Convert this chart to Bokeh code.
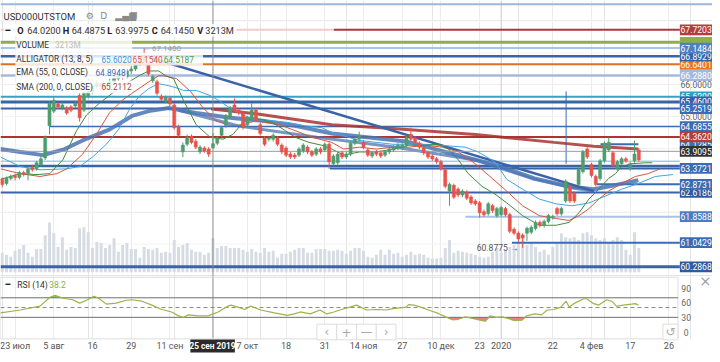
import numpy as np
from bokeh.plotting import figure
from bokeh.models import Range1d, FixedTicker, Grid
from bokeh.core.properties import value
from bokeh.embed import file_html
from bokeh.resources import INLINE

F = value("Roboto")
SYM = value("DejaVu Sans")

# ---------------- data ----------------
opens = [63.03, 62.90, 63.06, 63.15, 63.09, 63.24, 63.21, 63.40, 63.36, 63.49,
         63.70, 64.71, 65.17, 65.39, 65.27, 65.27, 65.30, 65.33, 65.66, 65.20,
         65.63, 65.79, 65.94, 66.03, 65.91, 65.97, 66.09, 66.19, 66.34, 66.25,
         66.43, 66.49, 66.65, 66.86, 66.62, 66.12, 66.09, 65.63, 65.48, 65.57,
         65.36, 64.68, 63.89, 64.13, 64.38, 64.22, 63.89, 64.01, 63.98, 64.02,
         64.16, 64.41, 64.71, 64.99, 65.36, 65.20, 65.11, 64.74, 64.90, 65.20,
         64.74, 64.32, 64.29, 64.29, 64.32, 64.10, 64.01, 63.82, 63.79, 63.79,
         63.92, 64.04, 63.89, 63.82, 63.98, 63.95, 64.13, 63.52, 63.55, 63.86,
         63.73, 63.82, 64.16, 64.29, 64.19, 63.95, 63.76, 63.89, 63.86, 63.79,
         63.89, 63.95, 64.01, 64.01, 64.10, 64.44, 64.32, 64.16, 64.01, 63.86,
         63.76, 63.67, 63.58, 63.33, 62.66, 62.84, 62.72, 62.54, 62.63, 62.47,
         62.35, 62.29, 62.01, 61.95, 62.20, 61.89, 61.92, 62.11, 61.92, 61.46,
         61.34, 61.28, 61.34, 61.37, 61.49, 61.68, 61.59, 61.71, 61.83, 62.11,
         61.95, 62.35, 62.81, 62.60, 62.87, 63.27, 63.98, 63.49, 63.12, 63.06,
         63.61, 63.95, 63.86, 63.36, 63.52, 63.67, 63.36, 63.61, 63.95]
highs = [63.09, 63.12, 63.18, 63.21, 63.30, 63.30, 63.43, 63.49, 63.61, 63.79,
         64.41, 65.48, 65.63, 65.45, 65.45, 65.33, 65.36, 65.51, 65.73, 65.79,
         65.88, 66.00, 66.12, 66.09, 66.06, 66.19, 66.28, 66.43, 66.40, 66.49,
         66.59, 66.74, 66.95, 67.14, 66.71, 66.31, 66.16, 65.70, 65.66, 65.63,
         65.42, 64.74, 64.19, 64.44, 64.44, 64.29, 64.10, 64.07, 64.04, 64.4875,
         64.38, 64.71, 65.08, 65.33, 65.57, 65.27, 65.17, 65.02, 65.42, 65.27,
         64.81, 64.38, 64.38, 64.47, 64.38, 64.16, 64.07, 63.89, 63.86, 64.04,
         64.16, 64.10, 63.95, 64.04, 64.04, 64.19, 64.19, 63.82, 63.89, 63.92,
         63.89, 64.22, 64.35, 64.53, 64.25, 64.01, 63.92, 63.95, 63.92, 63.95,
         64.04, 64.10, 64.16, 64.16, 64.41, 64.65, 64.38, 64.22, 64.07, 63.92,
         63.82, 63.73, 63.64, 63.40, 62.93, 62.90, 62.78, 62.72, 62.69, 62.54,
         62.41, 62.35, 62.08, 62.32, 62.26, 62.17, 62.20, 62.17, 61.98, 61.52,
         61.40, 61.34, 61.55, 61.59, 61.74, 61.74, 61.77, 61.95, 61.92, 62.17,
         62.17, 63.03, 62.87, 62.66, 63.40, 63.95, 64.04, 63.55, 63.18, 63.67,
         64.22, 64.35, 63.92, 63.64, 63.73, 63.73, 63.58, 64.25, 64.01]
lows = [62.78, 62.84, 63.00, 63.00, 63.03, 63.12, 63.00, 63.27, 63.30, 63.43,
        63.64, 64.44, 65.11, 65.24, 65.20, 65.05, 65.14, 65.27, 64.84, 65.14,
        65.57, 65.73, 65.88, 65.82, 65.85, 65.91, 66.03, 66.12, 66.16, 66.19,
        66.34, 66.43, 66.59, 66.68, 66.28, 66.06, 65.66, 65.48, 65.42, 65.33,
        64.59, 64.35, 63.73, 64.07, 64.13, 63.98, 63.82, 63.86, 63.73, 63.9975,
        64.10, 64.35, 64.65, 64.93, 65.14, 65.05, 64.59, 64.68, 64.84, 64.84,
        64.41, 64.07, 64.22, 64.22, 64.07, 63.82, 63.73, 63.67, 63.67, 63.73,
        63.86, 63.82, 63.73, 63.76, 63.82, 63.89, 63.36, 63.46, 63.49, 63.67,
        63.67, 63.76, 64.10, 64.22, 63.98, 63.73, 63.70, 63.76, 63.70, 63.73,
        63.82, 63.89, 63.95, 63.95, 64.04, 64.22, 64.13, 63.98, 63.79, 63.67,
        63.61, 63.52, 63.30, 62.75, 62.20, 62.41, 62.47, 62.47, 62.38, 62.23,
        62.20, 61.83, 61.86, 61.89, 61.98, 61.83, 61.86, 61.86, 61.34, 61.28,
        61.06, 60.8775, 61.10, 61.31, 61.43, 61.52, 61.52, 61.65, 61.77, 61.89,
        61.89, 62.29, 62.29, 62.29, 62.81, 63.21, 63.67, 63.09, 62.81, 63.00,
        63.55, 63.89, 63.40, 63.30, 63.46, 63.55, 63.30, 63.55, 63.58]
closes = [62.87, 63.06, 63.12, 63.09, 63.24, 63.18, 63.36, 63.33, 63.55, 63.67,
          64.35, 65.42, 65.51, 65.30, 65.36, 65.11, 65.20, 65.42, 64.96, 65.73,
          65.79, 65.94, 66.03, 65.94, 65.97, 66.09, 66.19, 66.34, 66.25, 66.43,
          66.49, 66.65, 66.86, 66.74, 66.34, 66.25, 65.73, 65.54, 65.60, 65.39,
          64.65, 64.41, 64.10, 64.35, 64.19, 64.04, 64.04, 63.92, 63.82, 64.145,
          64.32, 64.65, 65.02, 65.27, 65.20, 65.11, 64.65, 64.96, 65.20, 64.90,
          64.47, 64.13, 64.32, 64.41, 64.13, 63.89, 63.79, 63.73, 63.73, 63.98,
          64.10, 63.89, 63.79, 63.98, 63.89, 64.13, 63.58, 63.76, 63.82, 63.73,
          63.82, 64.16, 64.29, 64.38, 64.04, 63.79, 63.86, 63.82, 63.76, 63.89,
          63.98, 64.04, 64.10, 64.10, 64.35, 64.29, 64.19, 64.04, 63.86, 63.73,
          63.67, 63.58, 63.36, 62.81, 62.87, 62.47, 62.54, 62.66, 62.44, 62.29,
          62.26, 61.98, 61.92, 62.26, 62.05, 62.11, 62.14, 61.92, 61.40, 61.34,
          61.16, 61.19, 61.49, 61.52, 61.68, 61.59, 61.71, 61.89, 61.86, 61.95,
          62.11, 62.97, 62.35, 62.35, 63.33, 63.89, 63.73, 63.15, 62.87, 63.61,
          64.16, 64.19, 63.46, 63.58, 63.67, 63.61, 63.52, 63.82, 63.64]
volumes = [1840, 1656, 1472, 2024, 2208, 2576, 1840, 1472, 2208, 2208,
           3496, 4692, 3680, 2392, 3312, 2116, 2392, 2300, 4140, 4232,
           3772, 2300, 2852, 2760, 2300, 2576, 3220, 1932, 2576, 2760,
           2208, 2208, 1380, 2392, 2208, 2116, 2300, 1840, 1932, 1840,
           3036, 2392, 2576, 2760, 2116, 1932, 1932, 1656, 1840, 3213,
           2300, 2484, 2484, 2300, 2300,
           2300, 2116, 1932, 2208, 1932, 1840, 2300, 1932, 2024, 1380,
           1748, 1748, 1932, 2116, 2300, 2300, 1840, 1840, 2208, 2208,
           2208, 2024, 2024, 2116, 2024, 1748, 2024, 2300, 2300, 2024,
           1472, 1380, 1656, 2116, 1656, 2116, 1748, 1840, 1472, 1656,
           1932, 1656, 1748, 1656, 1380, 1288, 1288, 1380, 2300, 3036,
           1840, 2024, 1932, 1840, 1748,
           1656, 1472, 1380, 1472, 1932, 2300, 1840, 2116, 2392, 2576,
           2760, 3220, 2576, 2852, 2392, 1932, 2116, 1656, 2392, 2760,
           3680, 3312, 3220, 3312, 3036, 3680, 3772, 3496, 3220, 3036,
           3220, 2760, 3036, 3312, 3036, 2116, 1656, 3772, 2300]

rsi_k = [-0.4, 4.2, 8.8, 11.1, 12.3, 14.1, 16.4, 18.0, 19.6, 21.4, 22.6, 24.2, 26.5, 28.8, 30.2,
         32.5, 34.8, 37.1, 39.4, 41.0, 42.1, 43.3, 45.6, 47.9, 50.2, 52.5, 53.2, 54.8, 56.4, 57.8,
         60.1, 63.3, 66.3, 67.9, 69.3, 71.6, 73.9, 75.5, 77.1, 78.5, 80.8, 82.4, 84.7, 87.0, 89.3,
         90.9, 93.9, 94.5, 95.7, 97.3, 99.1, 101.4, 103.1, 104.7, 106.0, 107.7, 109.3, 111.1, 112.3,
         113.4, 115.0, 116.2, 117.5, 119.1, 120.8, 121.9, 123.8, 125.4, 126.7, 128.3, 129.9, 131.1,
         131.8, 132.9, 135.2, 135.9, 137.5, 138.7, 140.5, 141.7, 142.8, 144.4, 146.3, 147.2, 147.9]
rsi_v = [39, 45, 53, 71, 75, 69, 66, 59, 65, 73, 68, 57, 59, 65, 66,
         63, 55, 46, 41, 33, 30, 35, 33, 33, 41, 53, 55, 51, 46, 53,
         45, 39, 34, 37, 41, 37, 45, 37, 41, 45, 51, 55, 45, 46, 45,
         48, 51, 56, 55, 51, 45, 38, 31, 25, 26, 31, 28, 24, 22,
         33, 30, 31, 28, 23, 24, 33, 37, 35, 45, 46, 51, 63,
         51, 58, 68, 68, 58, 55, 66, 63, 53, 55, 57, 58, 55]

sma_k = [48.6, 59.4, 68.6, 76.6, 91.6, 110.0, 128.3, 137.5, 147.9]
sma_v = [65.24, 65.08, 64.90, 64.74, 64.62, 64.44, 64.19, 64.07, 63.98]
ema_k = [-0.39, 4.21, 9.49, 14.55, 18.69, 24.90, 30.18, 34.09, 38.69, 45.13, 52.94, 60.53,
         68.11, 76.62, 86.97, 93.86, 103.06, 114.55, 123.75, 131.79, 137.54, 142.14, 147.89]
ema_v = [63.98, 63.89, 63.79, 63.98, 64.25, 64.59, 65.02, 65.17, 65.27, 65.11, 64.96, 64.87,
         64.71, 64.47, 64.32, 64.22, 63.89, 63.49, 63.06, 62.81, 62.72, 62.84, 63.00]
ema2_k = [40.99, 54.78, 73.17, 91.56, 109.95, 123.75, 132.94, 137.54]
ema2_v = [65.20, 64.71, 64.35, 64.04, 63.64, 63.03, 62.75, 62.66]
trend_k = [34.09, 137.54]
trend_v = [66.86, 62.66]

lips_k = [-0.39, 4.21, 8.11, 11.10, 14.09, 17.31, 19.61, 22.60, 25.59, 28.80, 31.79, 34.09, 36.39,
          38.00, 39.84, 42.14, 45.13, 48.34, 51.33, 53.63, 55.93, 58.23, 60.53, 62.83, 65.82, 68.11,
          71.33, 74.32, 76.62, 79.38, 83.06, 86.97, 90.87, 94.55, 98.46, 101.45, 103.75, 106.05,
          108.35, 111.56, 114.55, 117.31, 120.99, 124.89, 128.80, 131.79, 134.09, 136.39, 138.69,
          141.00, 142.60, 143.98, 146.28, 149.50, 151.11]
lips_v = [63.03, 63.21, 63.18, 63.21, 63.64, 64.56, 65.05, 65.42, 65.73, 66.03, 66.28, 66.43, 66.43,
          66.28, 66.19, 65.51, 64.74, 64.35, 64.29, 64.44, 64.81, 64.96, 64.90, 64.81, 64.56, 64.35,
          64.19, 64.10, 63.98, 63.79, 63.89, 63.89, 63.98, 64.10, 64.10, 64.13, 63.98, 63.64,
          63.21, 62.81, 62.57, 62.29, 61.89, 61.59, 61.59, 61.68, 61.98, 62.41, 62.72,
          63.06, 63.21, 63.43, 63.52, 63.55, 63.55]
teeth_k = [-0.39, 4.21, 8.80, 12.71, 15.01, 18.69, 21.91, 24.90, 27.89, 30.18, 34.09, 36.39, 37.54,
           40.53, 43.75, 46.74, 49.72, 52.94, 55.93, 58.92, 62.14, 65.13, 68.11, 72.02, 76.62, 79.38,
           83.06, 86.97, 90.87, 94.55, 98.46, 102.37, 106.05, 109.95, 113.40, 117.31, 120.99, 124.89,
           128.80, 131.79, 134.09, 136.39, 138.69, 141.00, 143.98, 147.20, 150.19, 152.95]
teeth_v = [63.36, 63.21, 63.12, 63.21, 63.36, 63.82, 64.44, 65.11, 65.51, 65.73, 66.09, 66.28, 66.28,
           66.19, 65.79, 65.27, 64.87, 64.71, 64.74, 64.87, 64.81, 64.71, 64.56, 64.35, 64.19, 63.98,
           64.04, 63.98, 64.04, 64.04, 64.10, 64.04, 63.89, 63.52, 63.12, 62.66, 62.20, 61.89,
           61.80, 61.74, 61.89, 62.11, 62.41, 62.66, 62.90, 63.12, 63.21, 63.36]
jaw_k = [-0.39, 4.21, 8.80, 15.01, 18.00, 20.99, 24.21, 27.20, 29.49, 31.79, 34.09, 36.39, 38.69,
         40.99, 42.14, 45.13, 48.34, 50.64, 52.94, 55.93, 58.92, 62.83, 66.74, 70.41, 74.32, 76.62,
         83.06, 90.87, 98.46, 107.66, 110.64, 114.55, 117.31, 120.99, 124.89, 128.80, 132.48,
         136.39, 140.30, 143.98, 147.89, 151.80, 155.93]
jaw_v = [63.73, 63.43, 63.33, 63.36, 63.43, 63.73, 64.13, 64.62, 65.20, 65.63, 65.88, 66.03, 65.97,
         65.88, 65.82, 65.82, 65.66, 65.48, 65.27, 65.05, 64.90, 64.87, 64.81, 64.71, 64.65, 64.50,
         64.25, 64.13, 64.13, 64.04, 63.89, 63.58, 63.03, 62.72, 62.41, 62.26, 62.20,
         62.29, 62.51, 62.72, 62.90, 63.12, 63.18]

level_values = [68.52, 67.7203, 67.33, 67.1484, 66.8929, 66.6401, 66.2880, 65.62, 65.46, 65.2519,
                64.6855, 64.3620, 64.1285, 63.60, 63.45, 63.3721, 62.8731, 62.6186, 61.8588,
                61.0429, 60.2868]
drawn_vertical = (131.1, 63.52, 65.79)

tick_idx = [3, 12, 21, 30, 39, 57, 66, 75, 84, 93, 102, 111, 116, 128, 137, 146, 155]
tick_labels = ["23 июл", "5 авг", "16", "29", "11 сен", "7 окт", "18", "31", "14 ноя", "27",
               "10 дек", "23", "2020", "22", "4 фев", "17", "26"]
cross_idx = 49
cross_date = "25 сен 2019"
cross_price = 63.9095
legend_vals = [65.6020, 65.1540, 64.5187, 64.8948, 65.2112]
rsi_last = 38.2
price_ticks = [65, 66]
rsi_ticks = [0, 30, 60, 90]

# ---------------- styling / layout ----------------
GREEN = "#4f9d6e"
RED = "#e8524a"
LAB_L, LAB_R, LAB_C = 157.54, 166.0, 161.33
HALF = 0.169
DATE_Y = -28
level_style = [
    (-0.39, 166.0, "#9db7de", 2),
    (77.1, LAB_L, "#a83a3a", 2),
    (-0.39, LAB_L, "#8fae4a", 3),
    (-0.39, LAB_L, "#8fb0dd", 1.5),
    (-0.39, LAB_L, "#3a63a8", 2.5),
    (-0.39, LAB_L, "#e0701f", 2),
    (-0.39, LAB_L, "#a5b8de", 2.5),
    (-0.39, LAB_L, "#39a2c4", 2),
    (-0.39, LAB_L, "#3a63a8", 3),
    (-0.39, LAB_L, "#3a63a8", 2),
    (11.1, LAB_L, "#3b6cb3", 1.5),
    (-0.39, LAB_L, "#b03333", 2),
    (139.1, 147.9, "#3b6cb3", 2),
    (-0.39, LAB_L, "#9fcdee", 1.5),
    (-0.39, LAB_L, "#3a63a8", 2.5),
    (76.2, LAB_L, "#3a63a8", 2),
    (138.2, LAB_L, "#3b6cb3", 2),
    (-0.39, LAB_L, "#3a63a8", 2),
    (107.7, LAB_L, "#aac2e4", 2),
    (118.5, LAB_L, "#3b6cb3", 2),
    (-0.39, LAB_L, "#3a63a8", 3),
]
box_order = [(5, "#e8771f", True), (4, "#3462a8", True), (2, "#8db04a", False), (3, "#4d80c4", True),
             (6, "#a7b8de", True), (1, "#b53c3c", True),
             (7, "#2e9fc0", True), (8, "#3462a8", True), (9, "#3b6cb3", True),
             (10, "#3b6cb3", True), (12, "#3b6cb3", True), (11, "#b53c3c", True),
             (15, "#3b6cb3", True), (17, "#2d5aa0", True), (16, "#3b6cb3", True),
             (18, "#4d7dc0", True), (19, "#3b6cb3", True), (20, "#2d5aa0", True)]

o = np.array(opens); c = np.array(closes); h = np.array(highs); l = np.array(lows)
idx = np.arange(len(c))

p = figure(width=712, height=354, x_range=Range1d(-0.391, 165.13), y_range=Range1d(57.536, 68.6405),
           x_axis_location=None, y_axis_location=None, output_backend="svg", toolbar_location=None,
           min_border_left=0, min_border_right=0, min_border_top=0, min_border_bottom=0,
           outline_line_color=None, background_fill_color="white", border_fill_color="white")
p.extra_y_ranges = {"rsi": Range1d(-46, 678), "vol": Range1d(-7728, 25576)}

p.add_layout(Grid(dimension=0, ticker=FixedTicker(ticks=tick_idx), grid_line_color="#ececec"))
p.segment(x0=[-0.39] * 8, x1=[LAB_L] * 8, y0=[61, 62, 63, 64, 65, 66, 67, 68], y1=[61, 62, 63, 64, 65, 66, 67, 68],
          line_color="#f2f2f2", line_width=1)
p.quad(left=[-0.391], right=[166], bottom=[-46], top=[-14.5], y_range_name="rsi",
       fill_color="white", line_color=None)

p.segment(x0=[116], x1=[116], y0=[-14], y1=[678], y_range_name="rsi", line_color="#cfcfcf", line_width=1)

# volume
p.vbar(x=idx, top=volumes, bottom=0, width=0.68, y_range_name="vol", fill_color="#d6dce3", line_color=None)

# level lines
p.segment(x0=[-0.39], x1=[77.1], y0=[level_values[1]], y1=[level_values[1]], line_color="#f1caca", line_width=2)
for v, (s, e, col, w) in zip(level_values, level_style):
    p.segment(x0=[s], x1=[e], y0=[v], y1=[v], line_color=col, line_width=w)
p.segment(x0=[drawn_vertical[0]], x1=[drawn_vertical[0]], y0=[drawn_vertical[1]], y1=[drawn_vertical[2]],
          line_color="#3b6cb3", line_width=1)

# moving averages & trend line
p.line(sma_k, sma_v, line_color="#a83232", line_width=3, line_alpha=0.85)
p.line(ema2_k, ema2_v, line_color="#4a74b4", line_width=3, line_alpha=0.75)
p.line(ema_k, ema_v, line_color="#4a74b4", line_width=4, line_alpha=0.85)
p.line(trend_k, trend_v, line_color="#3a63a8", line_width=2.5)
p.line(jaw_k, jaw_v, line_color="#3fa6e0", line_width=1)
p.line(teeth_k, teeth_v, line_color="#d9553b", line_width=1)
p.line(lips_k, lips_v, line_color="#3e8a3e", line_width=1)

# crosshair
p.segment(x0=[cross_idx], x1=[cross_idx], y0=[-14], y1=[678], y_range_name="rsi", line_color="#8a8a8a", line_width=1)
p.segment(x0=[-0.39], x1=[LAB_L], y0=[cross_price], y1=[cross_price], line_color="#9a9a9a", line_width=1)

# candles
cols = np.where(c >= o, GREEN, RED)
p.segment(x0=idx, x1=idx, y0=l, y1=h, line_color=cols, line_width=1)
p.vbar(x=idx, bottom=np.minimum(o, c), top=np.maximum(o, c) + 0.004, width=0.72,
       fill_color=cols, line_color=cols, line_width=0.5)

# price axis labels & boxes
LBL = "8.6px"
p.text(x=[LAB_C] * len(price_ticks), y=price_ticks, text=["%.4f" % t for t in price_ticks],
       text_font=F, text_font_size=LBL, text_color="#666666", text_align="center", text_baseline="middle")
for li, col, show in box_order:
    v = level_values[li]
    p.quad(left=[LAB_L], right=[LAB_R], bottom=[v - HALF], top=[v + HALF], fill_color=col, line_color=None)
    if show:
        p.text(x=[LAB_C], y=[v], text=["%.4f" % v], text_font=F, text_font_size=LBL,
               text_color="white", text_align="center", text_baseline="middle")
p.quad(left=[LAB_L], right=[LAB_R], bottom=[cross_price - HALF], top=[cross_price + HALF],
       fill_color="#333333", line_color=None)
p.text(x=[LAB_C], y=[cross_price], text=["%.4f" % cross_price], text_font=F, text_font_size=LBL,
       text_color="white", text_align="center", text_baseline="middle")

# extreme annotations
p.text(x=[32.5], y=[highs[33]], text=["\u2190 %.4f" % highs[33]], text_font=F, text_font_size="8px",
       text_color="#999999", text_baseline="middle")
p.text(x=[120.06], y=[lows[121]], text=["%.4f \u2192" % lows[121]], text_font=F, text_font_size="8.6px",
       text_color="#555555", text_align="right", text_baseline="middle")

# legend panel
p.quad(left=[0.4, 3.06, 3.06, 3.06, 3.06], right=[54.5, 30.2, 46.7, 29.0, 30.2],
       bottom=[67.505, 67.04, 66.60, 66.19, 65.73], top=[67.905, 67.44, 67.00, 66.59, 66.13],
       fill_color="white", fill_alpha=0.82, line_color=None)
p.text(x=[0.3], y=[68.15], text=["USD000UTSTOM"], text_font=F, text_font_size="9.5px",
       text_color="#333333", text_baseline="middle")
p.text(x=[19.4, 22.8, 26.3, 29.6], y=[68.15] * 4, text=["\u2699", "D", "\u2582\u2584\u2586", "\u2750"],
       text_font=SYM, text_font_size="9px", text_color="#8a8a8a", text_baseline="middle")
row2 = 67.705
p.text(x=[0.76], y=[row2], text=["\u2501"], text_font=SYM, text_font_size="8px",
       text_color="#222222", text_baseline="middle")
p.text(x=[3.52, 14.09, 24.44, 34.78, 45.36], y=[row2] * 5, text=["O", "H", "L", "C", "V"],
       text_font=F, text_font_size="9.2px", text_font_style="bold", text_color="#222222", text_baseline="middle")
p.text(x=[5.82, 16.16, 26.28, 36.85, 47.2], y=[row2] * 5,
       text=["%.4f" % opens[cross_idx], "%.4f" % highs[cross_idx], "%.4f" % lows[cross_idx],
             "%.4f" % closes[cross_idx], "%dM" % volumes[cross_idx]],
       text_font=F, text_font_size="9.2px", text_color="#333333", text_baseline="middle")
LEG = "8.3px"
p.text(x=[3.29] * 4, y=[67.24, 66.80, 66.392, 65.932],
       text=["VOLUME", "ALLIGATOR (13, 8, 5)", "EMA (55, 0, CLOSE)", "SMA (200, 0, CLOSE)"],
       text_font=F, text_font_size=LEG, text_color="#333333", text_baseline="middle")
p.text(x=[12.25], y=[67.24], text=["%dM" % volumes[cross_idx]], text_font=F, text_font_size=LEG,
       text_color="#bbbbbb", text_baseline="middle")
p.text(x=[23.06, 30.3, 37.55, 21.68, 23.06], y=[66.80, 66.80, 66.80, 66.392, 65.932],
       text=["%.4f" % t for t in legend_vals],
       text_color=["#3d8fd1", "#d4553f", "#4a9a4a", "#3d6db5", "#b04040"],
       text_font=F, text_font_size=LEG, text_baseline="middle")

# ---------------- RSI panel ----------------
rv = np.array(rsi_v, dtype=float)
p.quad(left=[-0.391], right=[157.1], bottom=[-14], top=[112], fill_color=None, line_color="#dcdcdc",
       y_range_name="rsi")
p.varea(x=rsi_k, y1=70, y2=np.maximum(rv, 70), fill_color="#4fd14f", fill_alpha=0.85, y_range_name="rsi")
p.varea(x=rsi_k, y1=30, y2=np.minimum(rv, 30), fill_color="#f06868", fill_alpha=0.85, y_range_name="rsi")
p.segment(x0=[-0.391, -0.391], x1=[157.1, 157.1], y0=[70, 30], y1=[70, 30], line_color="#6f6f6f",
          line_width=1, y_range_name="rsi")
p.segment(x0=[-0.391], x1=[157.1], y0=[50], y1=[50], line_color="#8a8a8a", line_dash="4 3",
          line_width=1, y_range_name="rsi")
p.line(rsi_k, rsi_v, line_color="#9bb54a", line_width=1.2, y_range_name="rsi")
p.text(x=[159.0] * 4, y=rsi_ticks, text=[str(t) for t in rsi_ticks], text_font=F, text_font_size="8.6px",
       text_color="#666666", text_align="center", text_baseline="middle", y_range_name="rsi")
p.text(x=[0.76], y=[96.6], text=["\u2501"], text_font=SYM, text_font_size="8px",
       text_color="#222222", text_baseline="middle", y_range_name="rsi")
p.text(x=[3.52], y=[96.6], text=["RSI (14)"], text_font=F, text_font_size="8.6px", text_color="#333333",
       text_baseline="middle", y_range_name="rsi")
p.text(x=[10.9], y=[96.6], text=["%.1f" % rsi_last], text_font=F, text_font_size="8.6px",
       text_color="#8db33a", text_baseline="middle", y_range_name="rsi")
p.text(x=[163.5], y=[104], text=["\u00d7"], text_font=SYM, text_font_size="14px",
       text_color="#999999", text_align="center", text_baseline="middle", y_range_name="rsi")
p.quad(left=[73.17, 77.77, 82.37, 86.97, 153.6], right=[77.77, 82.37, 86.97, 91.56, 157.1],
       bottom=[-16] * 5, top=[16] * 5, fill_color="white", line_color="#dddddd", y_range_name="rsi")
p.text(x=[75.47, 80.07, 84.67, 89.27, 155.35], y=[-1] * 5, text=["\u2039", "+", "\u2014", "\u203a", "\u21ba"],
       text_font=SYM, text_font_size="12px", text_color="#aaaaaa", text_align="center",
       text_baseline="middle", y_range_name="rsi")

# ---------------- date scale ----------------
p.text(x=tick_idx, y=[DATE_Y] * len(tick_idx), text=tick_labels, text_font=F, text_font_size="9px",
       text_color="#555555", text_align="center", text_baseline="middle", y_range_name="rsi")
p.quad(left=[43.75], right=[54.09], bottom=[-42], top=[-15.5], fill_color="#2b2b2b", line_color=None,
       y_range_name="rsi")
p.text(x=[cross_idx - 0.1], y=[DATE_Y], text=[cross_date], text_font=F, text_font_size="8.3px",
       text_font_style="bold", text_color="white", text_align="center", text_baseline="middle",
       y_range_name="rsi")

open("out.html", "w").write(file_html(p, INLINE))
